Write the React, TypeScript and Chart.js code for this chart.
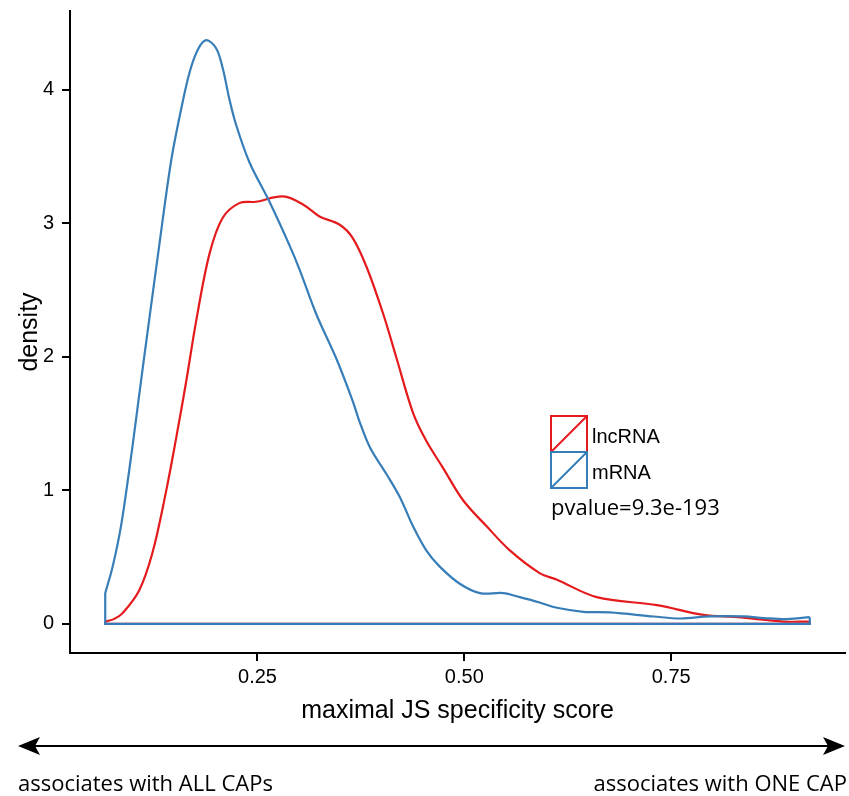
import React, { useEffect, useRef } from "react";
import { Chart, registerables } from "chart.js";

Chart.register(...registerables);

// ---------- data ----------
const seriesNames = ["lncRNA", "mRNA"];

const lncX = [0.066, 0.077, 0.087, 0.107, 0.123, 0.139, 0.152, 0.164, 0.176, 0.192, 0.208, 0.228, 0.248, 0.281, 0.305, 0.325, 0.349, 0.365, 0.382, 0.402, 0.418, 0.438, 0.454, 0.474, 0.4985, 0.527, 0.555, 0.591, 0.612, 0.66, 0.733, 0.789, 0.83, 0.886, 0.9175];
const lncY = [0.017, 0.037, 0.08, 0.25, 0.53, 0.975, 1.4, 1.82, 2.27, 2.77, 3.04, 3.15, 3.16, 3.2, 3.14, 3.05, 2.99, 2.89, 2.67, 2.32, 1.99, 1.58, 1.37, 1.17, 0.925, 0.73, 0.55, 0.38, 0.33, 0.2, 0.14, 0.067, 0.05, 0.017, 0.017];

const mrnaX = [0.066, 0.075, 0.085, 0.095, 0.103, 0.111, 0.119, 0.131, 0.1455, 0.158, 0.168, 0.178, 0.188, 0.2, 0.208, 0.216, 0.224, 0.24, 0.2645, 0.289, 0.301, 0.321, 0.345, 0.365, 0.373, 0.386, 0.406, 0.422, 0.438, 0.454, 0.47, 0.4945, 0.519, 0.547, 0.567, 0.591, 0.612, 0.644, 0.676, 0.729, 0.761, 0.797, 0.838, 0.862, 0.89, 0.9175];
const mrnaY = [0.23, 0.43, 0.73, 1.15, 1.52, 1.9, 2.27, 2.82, 3.46, 3.86, 4.13, 4.3, 4.37, 4.31, 4.16, 3.93, 3.74, 3.46, 3.16, 2.83, 2.65, 2.32, 1.99, 1.67, 1.52, 1.32, 1.12, 0.95, 0.73, 0.55, 0.43, 0.3, 0.23, 0.23, 0.2, 0.16, 0.12, 0.09, 0.085, 0.055, 0.04, 0.055, 0.055, 0.043, 0.035, 0.05];

const xTickValues = [0.25, 0.5, 0.75];
const xTickLabels = ["0.25", "0.50", "0.75"];
const yTickValues = [0, 1, 2, 3, 4];
const yTickLabels = ["0", "1", "2", "3", "4"];

const xTitle = "maximal JS specificity score";
const yTitle = "density";
const pValueText = "pvalue=9.3e-193";
const arrowLeftLabel = "associates with ALL CAPs";
const arrowRightLabel = "associates with ONE CAP";

const seriesColors = ["#E41A1C", "#377EB8"];

// ---------- helpers ----------
const FONT = "'Liberation Sans', Arial, Helvetica, sans-serif";
const FONT2 = "'Open Sans', 'Noto Sans', sans-serif";

function curvePoints(xs: number[], ys: number[]) {
  return xs.map((x, i) => ({ x, y: ys[i] }));
}
function closingPoints(xs: number[], ys: number[]) {
  const n = xs.length - 1;
  return [
    { x: xs[n], y: ys[n] },
    { x: xs[n], y: 0 },
    { x: xs[0], y: 0 },
    { x: xs[0], y: ys[0] },
  ];
}

const allX = [...lncX, ...mrnaX];
const allY = [...lncY, ...mrnaY, 0];
const xLo = Math.min(...allX), xHi = Math.max(...allX);
const yLo = Math.min(...allY), yHi = Math.max(...allY);
const xPad = (xHi - xLo) * 0.05, yPad = (yHi - yLo) * 0.05;

const overlayPlugin = {
  id: "overlay",
  afterDraw(chart: any) {
    const ctx = chart.ctx as CanvasRenderingContext2D;
    ctx.save();
    // legend keys
    const keyX = 551, keyTop = 416, keySize = 36;
    [0, 1].forEach((si) => {
      const top = keyTop + si * keySize;
      ctx.strokeStyle = seriesColors[si];
      ctx.lineWidth = 2;
      ctx.beginPath();
      ctx.rect(keyX, top, keySize, keySize);
      ctx.moveTo(keyX, top + keySize);
      ctx.lineTo(keyX + keySize, top);
      ctx.stroke();
      ctx.fillStyle = "#000";
      ctx.font = `20px ${FONT}`;
      ctx.textAlign = "left";
      ctx.textBaseline = "alphabetic";
      ctx.fillText(seriesNames[si], 592, top + 27);
    });
    // p-value
    ctx.font = `22px ${FONT2}`;
    ctx.fillStyle = "#000";
    ctx.textAlign = "left";
    ctx.fillText(pValueText, 551, 515);

    // double arrow
    const ay = 746, ax1 = 18, ax2 = 845, headL = 22, headH = 9;
    ctx.strokeStyle = "#000";
    ctx.lineWidth = 2;
    ctx.beginPath();
    ctx.moveTo(ax1 + 6, ay);
    ctx.lineTo(ax2 - 6, ay);
    ctx.stroke();
    ctx.fillStyle = "#000";
    ctx.beginPath();
    ctx.moveTo(ax1, ay);
    ctx.lineTo(ax1 + headL, ay - headH);
    ctx.lineTo(ax1 + headL - 5, ay);
    ctx.lineTo(ax1 + headL, ay + headH);
    ctx.closePath();
    ctx.fill();
    ctx.beginPath();
    ctx.moveTo(ax2, ay);
    ctx.lineTo(ax2 - headL, ay - headH);
    ctx.lineTo(ax2 - headL + 5, ay);
    ctx.lineTo(ax2 - headL, ay + headH);
    ctx.closePath();
    ctx.fill();

    // arrow labels
    ctx.font = `22px ${FONT2}`;
    ctx.textAlign = "left";
    ctx.fillText(arrowLeftLabel, 18, 791);
    ctx.textAlign = "right";
    ctx.fillText(arrowRightLabel, 847, 791);
    ctx.restore();
  },
};

export default function App() {
  const ref = useRef<HTMLCanvasElement | null>(null);
  useEffect(() => {
    if (!ref.current) return;
    const series = [
      { xs: mrnaX, ys: mrnaY, color: seriesColors[1] },
      { xs: lncX, ys: lncY, color: seriesColors[0] },
    ];
    const datasets: any[] = [];
    series.forEach((s) => {
      datasets.push({
        data: curvePoints(s.xs, s.ys),
        showLine: true,
        borderColor: s.color,
        borderWidth: 2.2,
        pointRadius: 0,
        fill: false,
        tension: 0.35,
        borderJoinStyle: "round",
      });
      datasets.push({
        data: closingPoints(s.xs, s.ys),
        showLine: true,
        borderColor: s.color,
        borderWidth: 2.2,
        pointRadius: 0,
        fill: false,
        tension: 0,
        borderJoinStyle: "miter",
      });
    });
    const chart = new Chart(ref.current, {
      type: "scatter",
      data: { datasets },
      plugins: [overlayPlugin],
      options: {
        animation: false,
        responsive: false,
        devicePixelRatio: 1,
        events: [],
        layout: { padding: { left: 0, top: 11, right: 4, bottom: 70 } },
        plugins: { legend: { display: false }, tooltip: { enabled: false } },
        scales: {
          x: {
            type: "linear",
            min: xLo - xPad,
            max: xHi + xPad,
            afterBuildTicks: (s: any) => {
              s.ticks = xTickValues.map((v) => ({ value: v }));
            },
            afterFit: (s: any) => {
              s.height = 73;
              s.paddingLeft = 0;
              s.paddingRight = 0;
            },
            ticks: {
              callback: (v: any) => {
                const i = xTickValues.indexOf(Number(v));
                return i >= 0 ? xTickLabels[i] : "";
              },
              font: { size: 20, family: FONT },
              color: "#000",
              padding: 4,
              maxRotation: 0,
              autoSkip: false,
            },
            grid: { drawOnChartArea: false, drawTicks: true, tickLength: 8, color: "#000", lineWidth: 2 },
            border: { display: true, color: "#000", width: 2 },
            title: { display: true, text: xTitle, font: { size: 25, family: FONT }, color: "#000", padding: { top: 0, bottom: 0 } },
          },
          y: {
            type: "linear",
            min: yLo - yPad,
            max: yHi + yPad,
            afterBuildTicks: (s: any) => {
              s.ticks = yTickValues.map((v) => ({ value: v }));
            },
            afterFit: (s: any) => {
              s.width = 70;
              s.paddingTop = 0;
              s.paddingBottom = 0;
            },
            ticks: {
              callback: (v: any) => {
                const i = yTickValues.indexOf(Number(v));
                return i >= 0 ? yTickLabels[i] : "";
              },
              font: { size: 20, family: FONT },
              color: "#000",
              padding: 8,
              autoSkip: false,
            },
            grid: { drawOnChartArea: false, drawTicks: true, tickLength: 8, color: "#000", lineWidth: 2 },
            border: { display: true, color: "#000", width: 2 },
            title: { display: true, text: yTitle, font: { size: 25, family: FONT }, color: "#000", padding: { top: 15, bottom: 0 } },
          },
        },
      },
    } as any);
    return () => chart.destroy();
  }, []);
  return (
    <div style={{ position: "absolute", left: 0, top: 0, width: 849, height: 796, background: "#fff" }}>
      <canvas ref={ref} width={849} height={796} style={{ display: "block" }} />
    </div>
  );
}
